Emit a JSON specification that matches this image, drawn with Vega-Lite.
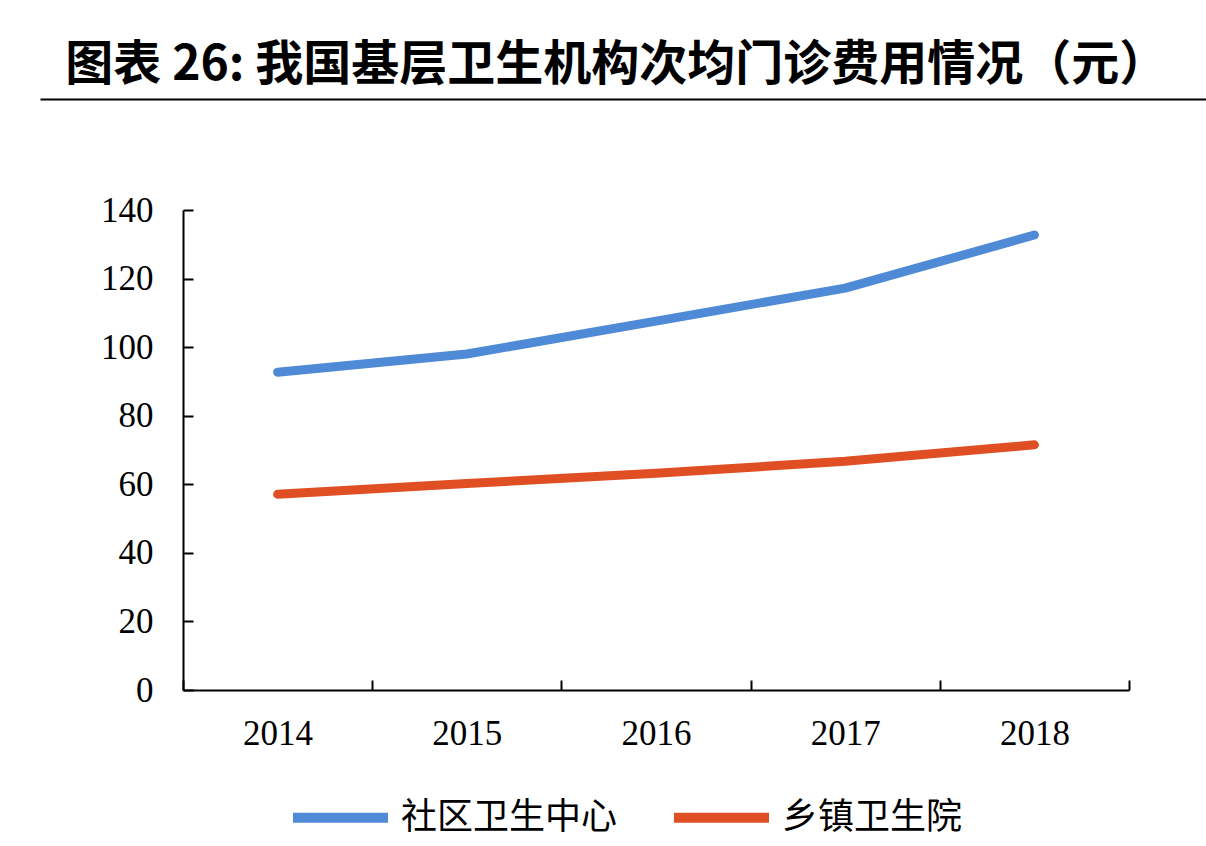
{
  "$schema": "https://vega.github.io/schema/vega-lite/v6.json",
  "background": "white",
  "padding": {"left": 37, "top": 41, "right": 0, "bottom": 0},
  "config": {
    "view": {"stroke": null},
    "font": "Liberation Serif"
  },
  "spacing": 91,
  "vconcat": [
    {
      "width": 946,
      "height": 1,
      "title": {
        "text": "图表 26: 我国基层卫生机构次均门诊费用情况（元）",
        "font": "Noto Sans CJK SC",
        "fontSize": 48,
        "fontWeight": "bold",
        "color": "black",
        "anchor": "start",
        "frame": "bounds",
        "dx": 28,
        "offset": 6
      },
      "data": {"values": [{"v": 0}]},
      "mark": {"type": "point", "opacity": 0},
      "encoding": {
        "x": {
          "field": "v",
          "type": "quantitative",
          "scale": {"domain": [0, 1], "range": [-143, 1023]},
          "axis": {
            "domainColor": "black",
            "domainWidth": 2,
            "labels": false,
            "ticks": false,
            "grid": false,
            "title": null
          }
        }
      }
    },
    {
      "width": 946,
      "height": 480,
      "data": {
        "values": [
          {"year": "2014", "type": "社区卫生中心", "cost": 92.7},
          {"year": "2015", "type": "社区卫生中心", "cost": 98.0},
          {"year": "2016", "type": "社区卫生中心", "cost": 107.6},
          {"year": "2017", "type": "社区卫生中心", "cost": 117.2},
          {"year": "2018", "type": "社区卫生中心", "cost": 132.7},
          {"year": "2014", "type": "乡镇卫生院", "cost": 57.1},
          {"year": "2015", "type": "乡镇卫生院", "cost": 60.2},
          {"year": "2016", "type": "乡镇卫生院", "cost": 63.2},
          {"year": "2017", "type": "乡镇卫生院", "cost": 66.7},
          {"year": "2018", "type": "乡镇卫生院", "cost": 71.5}
        ]
      },
      "mark": {"type": "line", "strokeWidth": 9, "strokeCap": "round", "strokeJoin": "round"},
      "encoding": {
        "x": {
          "field": "year",
          "type": "ordinal",
          "bandPosition": 0.5,
          "scale": {"type": "band", "paddingInner": 0, "paddingOuter": 0},
          "axis": {
            "title": null,
            "labelAngle": 0,
            "tickBand": "extent",
            "domainColor": "black",
            "domainWidth": 2,
            "tickColor": "black",
            "tickWidth": 2,
            "tickSize": -10,
            "labelFont": "Liberation Serif",
            "labelFontSize": 35,
            "labelColor": "black",
            "labelPadding": 36
          }
        },
        "y": {
          "field": "cost",
          "type": "quantitative",
          "scale": {"domain": [0, 140], "nice": false},
          "axis": {
            "title": null,
            "values": [0, 20, 40, 60, 80, 100, 120, 140],
            "grid": false,
            "domainColor": "black",
            "domainWidth": 2,
            "tickColor": "black",
            "tickWidth": 2,
            "tickSize": -10,
            "labelFont": "Liberation Serif",
            "labelFontSize": 35,
            "labelColor": "black",
            "labelPadding": 40,
            "minExtent": 143
          }
        },
        "color": {
          "field": "type",
          "type": "nominal",
          "scale": {
            "domain": ["社区卫生中心", "乡镇卫生院"],
            "range": ["#4F8AD6", "#E04E24"]
          },
          "legend": {
            "title": null,
            "orient": "none",
            "legendX": 105,
            "legendY": 667,
            "direction": "horizontal",
            "symbolType": "stroke",
            "symbolSize": 9025,
            "symbolStrokeWidth": 10,
            "labelFont": "Noto Sans CJK SC",
            "labelFontSize": 36,
            "labelColor": "black",
            "labelOffset": 8,
            "labelLimit": 400,
            "columnPadding": 36
          }
        }
      }
    }
  ]
}
